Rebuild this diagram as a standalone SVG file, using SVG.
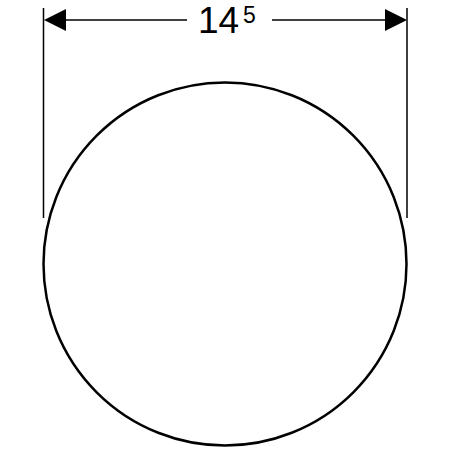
<svg xmlns="http://www.w3.org/2000/svg" width="450" height="450" viewBox="0 0 450 450">
<style>
.l{stroke:#000;stroke-width:1.5;fill:none}
.c{stroke:#000;stroke-width:2.5;fill:none}
.t{font-family:"Liberation Sans",Arial,sans-serif;fill:#000}
</style>
<rect width="450" height="450" fill="#fff"/>
<g id="shape"><circle class="c" cx="225" cy="264" r="181.5"/></g>
<g id="connectors">
<line class="l" x1="43.5" y1="8" x2="43.5" y2="218"/>
<line class="l" x1="407" y1="8" x2="407" y2="218"/>
<line class="l" x1="60" y1="20" x2="187" y2="20"/>
<line class="l" x1="272" y1="20" x2="390" y2="20"/>
<polygon points="44,20 66,9 66,31" fill="#000"/>
<polygon points="407,20 385,9 385,31" fill="#000"/>
</g>
<g id="label">
<text class="t" x="198" y="33" font-size="37">14</text>
<text class="t" x="243" y="23" font-size="23">5</text>
</g>
</svg>
